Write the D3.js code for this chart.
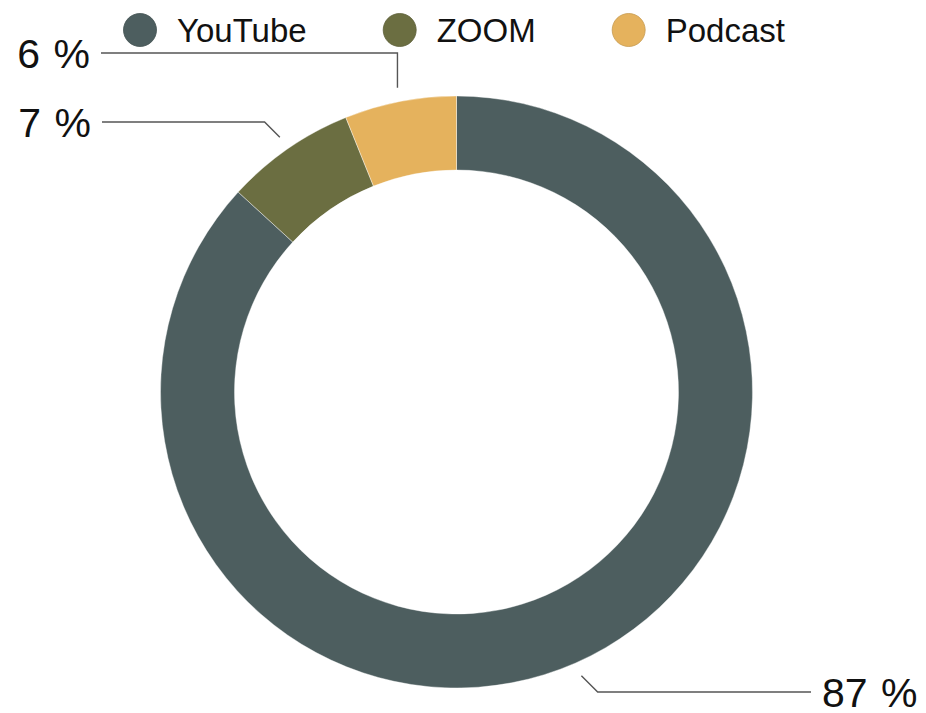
<!DOCTYPE html>
<html>
<head>
<meta charset="utf-8">
<script src="https://cdn.jsdelivr.net/npm/d3@7"></script>
<style>
  body { margin: 0; background: #fff; }
  svg { display: block; font-family: "Liberation Sans", Arial, Helvetica, sans-serif; }
</style>
</head>
<body>
<script>
// Chart data
const categories = ["YouTube", "ZOOM", "Podcast"];
const shares = [86.8, 7.1, 6.1];
const labels = ["87 %", "7 %", "6 %"];
const colors = ["#4d5e5f", "#6b6e41", "#e5b25d"];

const w = 926;
const h = 713;
const cx = 456.5, cy = 392;
const outerR = 296, innerR = 222;

const svg = d3.select("body")
  .append("svg")
  .attr("width", w)
  .attr("height", h);

// Legend
const legend = svg.append("g").attr("transform", "translate(0, 30)");
let lx = 123;
categories.forEach((c, i) => {
  const item = legend.append("g").attr("transform", `translate(${lx}, 0)`);
  item.append("circle")
    .attr("cx", 17)
    .attr("cy", 0)
    .attr("r", 16.5)
    .attr("fill", colors[i])
    .attr("stroke", d3.color(colors[i]).darker(0.4))
    .attr("stroke-width", 0.8);
  const t = item.append("text")
    .attr("x", 54)
    .attr("y", 11.5)
    .attr("font-size", "33px")
    .attr("fill", "#111")
    .text(c);
  lx += 54 + t.node().getComputedTextLength() + 76;
});

// Donut
const pie = d3.pie().sort(null).value(d => d)
const arcs = pie(shares);
const arc = d3.arc().innerRadius(innerR).outerRadius(outerR);

const g = svg.append("g").attr("transform", `translate(${cx}, ${cy})`);
g.selectAll("path")
  .data(arcs)
  .enter()
  .append("path")
  .attr("d", arc)
  .attr("fill", (d, i) => colors[i])
  .attr("stroke", "#fff")
  .attr("stroke-width", 0.4);

// Label layout: line height and end of the horizontal run
const labelLayout = [
  { y: 692, endX: 811, bend: "diag" },
  { y: 122, endX: 102, bend: "diag" },
  { y: 53, endX: 101, bend: "vertical" }
];

const lineArc = d3.arc().innerRadius(outerR + 14).outerRadius(outerR + 14);

arcs.forEach((d, i) => {
  const [sx, sy] = lineArc.centroid(d).map((v, k) => v + (k ? cy : cx));
  const L = labelLayout[i];
  const dy = Math.abs(L.y - sy);
  const dir = L.endX > sx ? 1 : -1;
  const ex = L.bend === "vertical" ? sx : sx + dir * dy;
  svg.append("path")
    .attr("d", d3.line()([[sx, sy], [ex, L.y], [L.endX, L.y]]))
    .attr("fill", "none")
    .attr("stroke", "#555")
    .attr("stroke-width", 1.4);
  svg.append("text")
    .attr("x", L.endX + dir * 11)
    .attr("y", L.y + 15)
    .attr("text-anchor", dir > 0 ? "start" : "end")
    .attr("font-size", "41px")
    .attr("word-spacing", "2px")
    .attr("fill", "#111")
    .text(labels[i]);
});
</script>
</body>
</html>
